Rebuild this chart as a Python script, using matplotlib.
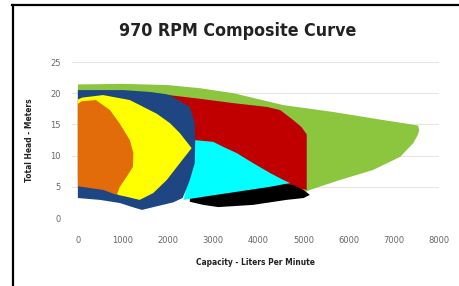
import matplotlib
matplotlib.use("Agg")
import matplotlib.pyplot as plt
from matplotlib.lines import Line2D

# ---- data (capacity L/min, head m) ----
green_x = [0, 1000, 2000, 2705, 3450, 4545, 5650, 6760, 7300, 7540, 7560, 7530, 7430, 7140, 6540, 5810, 5140, 5000, 3000, 0]
green_y = [21.4, 21.5, 21.3, 20.8, 20.0, 18.1, 17.0, 15.7, 15.1, 14.8, 14.0, 13.3, 12.0, 9.8, 7.7, 6.1, 4.5, 4.0, 4.5, 6.0]

red_x = [1900, 2710, 3450, 4190, 4480, 4770, 4950, 5070, 5070, 4700, 3000, 2300, 2000]
red_y = [19.8, 19.1, 18.4, 17.8, 17.3, 15.7, 14.6, 13.4, 4.5, 5.0, 6.0, 8.0, 12.0]

black_x = [2480, 2780, 3110, 3880, 4620, 5000, 5140, 5000, 4770, 4500, 3500, 2480]
black_y = [2.6, 2.1, 1.75, 2.1, 2.9, 3.2, 3.7, 4.5, 5.3, 5.5, 5.0, 3.2]

cyan_x = [2560, 3000, 3220, 3520, 3880, 4260, 4550, 4700, 4260, 3520, 2780, 2340, 2410, 2560, 2575]
cyan_y = [12.5, 12.2, 11.4, 10.4, 8.8, 7.2, 6.1, 5.6, 5.0, 4.2, 3.4, 2.9, 5.0, 8.8, 11.5]

navy_x = [0, 1000, 1600, 1900, 2040, 2480, 2590, 2600, 2590, 2480, 2400, 2320, 2110, 1820, 1420, 1230, 930, 490, 0]
navy_y = [20.5, 20.5, 20.2, 19.9, 19.7, 17.8, 15.2, 12.5, 8.8, 6.1, 4.6, 3.2, 2.5, 2.0, 1.3, 1.7, 2.4, 2.9, 3.2]

yellow_x = [0, 100, 560, 1150, 1750, 2040, 2260, 2520, 2260, 1970, 1670, 1370, 1080, 890, 600, 0]
yellow_y = [19.0, 19.3, 19.7, 18.9, 16.7, 15.2, 13.6, 11.2, 8.8, 6.1, 4.0, 2.9, 3.4, 3.7, 6.0, 8.0]

orange_x = [0, 80, 400, 710, 930, 1150, 1230, 1220, 1080, 930, 860, 560, 80, 0]
orange_y = [18.3, 18.7, 18.9, 17.3, 15.1, 12.5, 10.4, 8.2, 6.6, 5.0, 3.7, 4.5, 5.0, 5.1]

x_ticks = [0, 1000, 2000, 3000, 4000, 5000, 6000, 7000, 8000]
y_ticks = [0, 5, 10, 15, 20, 25]

regions = [
    (green_x, green_y, "#8CC63F"),
    (red_x, red_y, "#C00000"),
    (black_x, black_y, "#000000"),
    (cyan_x, cyan_y, "#00FFFF"),
    (navy_x, navy_y, "#1E4682"),
    (yellow_x, yellow_y, "#FFFF00"),
    (orange_x, orange_y, "#E36C0A"),
]

fig = plt.figure(figsize=(4.59, 2.86), dpi=100)
fig.patch.set_facecolor("white")
ax = fig.add_axes([72 / 459, 68 / 286, 367 / 459, 156 / 286])

for xs, ys, c in regions:
    ax.fill(xs, ys, color=c, linewidth=0, zorder=2)

ax.set_xlim(-130, 8000)
ax.set_ylim(0, 25)
ax.set_xticks(x_ticks)
ax.set_yticks(y_ticks)
ax.set_xticklabels([str(v) for v in x_ticks])
ax.set_yticklabels([str(v) for v in y_ticks])
ax.tick_params(length=0, labelsize=6, colors="#666666")
ax.tick_params(axis="x", pad=13)
ax.tick_params(axis="y", pad=8)
ax.grid(axis="y", color="#e6e6e6", linewidth=0.8, zorder=0)
ax.set_axisbelow(True)
for s in ax.spines.values():
    s.set_visible(False)

lab_font = dict(family="DejaVu Sans", fontstretch="condensed", fontweight="bold", fontsize=6, color="#222222")
ax.set_xlabel("Capacity - Liters Per Minute", labelpad=9, **lab_font)
ax.set_ylabel("Total Head - Meters", labelpad=12, **lab_font)

fig.text(0.517, 0.893, "970 RPM Composite Curve", ha="center", va="center",
         family="DejaVu Sans", fontstretch="condensed", fontweight="bold",
         fontsize=12.8, color="#222222")

# frame lines of the screenshot
fig.add_artist(Line2D([12 / 459, 1], [1 - 5 / 286, 1 - 5 / 286], color="black", linewidth=1.6, transform=fig.transFigure))
fig.add_artist(Line2D([12.5 / 459, 12.5 / 459], [0, 1 - 5 / 286], color="black", linewidth=1.6, transform=fig.transFigure))

fig.savefig("out.png", dpi=100, facecolor="white")
